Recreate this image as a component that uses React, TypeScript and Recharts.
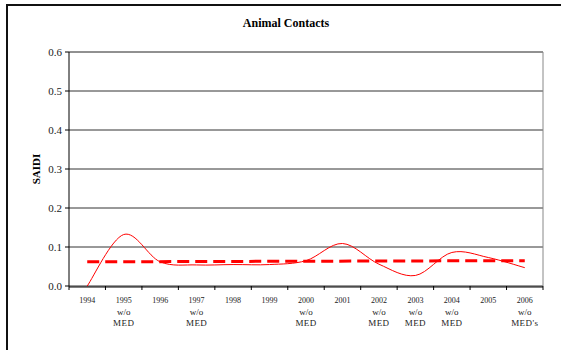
import React from 'react';
import { LineChart, Line, XAxis, YAxis, CartesianGrid, ReferenceLine } from 'recharts';

const years = ['1994', '1995', '1996', '1997', '1998', '1999', '2000', '2001', '2002', '2003', '2004', '2005', '2006'];
const subLine1 = ['', 'w/o', '', 'w/o', '', '', 'w/o', '', 'w/o', 'w/o', 'w/o', '', 'w/o'];
const subLine2 = ['', 'MED', '', 'MED', '', '', 'MED', '', 'MED', 'MED', 'MED', '', "MED's"];
const saidi = [0.0, 0.132, 0.062, 0.054, 0.055, 0.055, 0.065, 0.109, 0.056, 0.027, 0.086, 0.073, 0.047];
const average = [0.062, null, null, null, null, null, null, null, null, null, null, null, 0.065];
const yTicks = [0, 0.1, 0.2, 0.3, 0.4, 0.5, 0.6];

const data = years.map((y, i) => ({ x: i + 0.5, year: y, saidi: saidi[i], avg: average[i] }));
const labelTicks = years.map((_, i) => i + 0.5);
const boundaryTicks = [...years.map((_, i) => i), years.length];

const FONT = '"Liberation Serif", "Times New Roman", serif';

// Excel-style smoothed line (Catmull-Rom as cubic Bezier)
const excelSmooth: any = (context: any) => {
  let pts: number[][] = [];
  return {
    areaStart() {},
    areaEnd() {},
    lineStart() { pts = []; },
    point(x: number, y: number) { pts.push([+x, +y]); },
    lineEnd() {
      if (!pts.length) return;
      context.moveTo(pts[0][0], pts[0][1]);
      for (let i = 0; i < pts.length - 1; i++) {
        const p0 = pts[i - 1] || pts[i];
        const p1 = pts[i];
        const p2 = pts[i + 1];
        const p3 = pts[i + 2] || pts[i + 1];
        context.bezierCurveTo(
          p1[0] + (p2[0] - p0[0]) / 6, p1[1] + (p2[1] - p0[1]) / 6,
          p2[0] - (p3[0] - p1[0]) / 6, p2[1] - (p3[1] - p1[1]) / 6,
          p2[0], p2[1]
        );
      }
    },
  };
};

const XTick = (props: any) => {
  const { x, y, payload } = props;
  const i = Math.floor(payload.value);
  return (
    <g>
      <text x={x} y={y + 16} textAnchor="middle" fontSize={8} fill="#222" style={{ fontFamily: FONT }}>{years[i]}</text>
      {subLine1[i] ? (
        <text x={x} y={y + 27.5} textAnchor="middle" fontSize={9} fill="#222" style={{ fontFamily: FONT }}>{subLine1[i]}</text>
      ) : null}
      {subLine2[i] ? (
        <text x={x} y={y + 39} textAnchor="middle" fontSize={9} fill="#222" style={{ fontFamily: FONT, letterSpacing: 0.4 }}>{subLine2[i]}</text>
      ) : null}
    </g>
  );
};

const YTick = (props: any) => {
  const { x, y, payload } = props;
  return (
    <text x={x} y={y} dy={4} textAnchor="end" fontSize={11} fill="#222" style={{ fontFamily: FONT }}>
      {Number(payload.value).toFixed(1)}
    </text>
  );
};

const EmptyTick = () => <g />;

const SaidiLabel = (props: any) => {
  const vb = props.viewBox || {};
  const cx = 36;
  const cy = (vb.y ?? 52) + (vb.height ?? 234) / 2;
  return (
    <text
      x={cx}
      y={cy}
      transform={`rotate(-90, ${cx}, ${cy})`}
      textAnchor="middle"
      dominantBaseline="central"
      fontSize={11}
      fontWeight="bold"
      fill="#000"
      style={{ fontFamily: FONT }}
    >
      SAIDI
    </text>
  );
};

export default function App() {
  return (
    <div style={{ position: 'absolute', left: 0, top: 0, width: 561, height: 350, overflow: 'hidden', background: '#fff', fontFamily: FONT }}>
      <div style={{ position: 'absolute', left: 6, top: 4, width: 700, height: 500, borderTop: '2px solid #111', borderLeft: '2px solid #111' }} />
      <div style={{ position: 'absolute', left: 186, top: 16, width: 200, textAlign: 'center', fontSize: 12, fontWeight: 'bold', color: '#000', fontFamily: FONT }}>
        Animal Contacts
      </div>
      <div style={{ position: 'absolute', left: 0, top: 0 }}>
        <LineChart width={561} height={350} data={data} margin={{ top: 52, right: 17, bottom: 62, left: 0 }} style={{ fontFamily: FONT }}>
          <CartesianGrid xAxisId="lab" yAxisId="l" vertical={false} stroke="#333" strokeWidth={1} />
          <XAxis
            xAxisId="bnd"
            dataKey="x"
            type="number"
            domain={[0, years.length]}
            allowDataOverflow
            ticks={boundaryTicks}
            interval={0}
            height={1}
            tick={EmptyTick}
            tickLine={{ stroke: '#000' }}
            tickSize={4}
            axisLine={false}
          />
          <XAxis
            xAxisId="lab"
            dataKey="x"
            type="number"
            domain={[0, years.length]}
            allowDataOverflow
            ticks={labelTicks}
            interval={0}
            height={1}
            tick={XTick}
            tickLine={false}
            tickSize={0}
            tickMargin={0}
            axisLine={{ stroke: '#000' }}
          />
          <YAxis
            yAxisId="l"
            width={69}
            domain={[0, 0.6]}
            ticks={yTicks}
            interval={0}
            tick={YTick}
            tickSize={4}
            tickMargin={3}
            tickLine={{ stroke: '#000' }}
            axisLine={{ stroke: '#000' }}
            label={<SaidiLabel />}
          />
          <YAxis
            yAxisId="r"
            orientation="right"
            width={1}
            domain={[0, 0.6]}
            tick={false}
            tickLine={false}
            axisLine={{ stroke: '#888' }}
          />
          <ReferenceLine yAxisId="l" xAxisId="lab" y={0.6} stroke="#888" strokeWidth={1} />
          <Line
            xAxisId="lab"
            yAxisId="l"
            dataKey="avg"
            type="linear"
            connectNulls
            stroke="#ff0000"
            strokeWidth={3}
            strokeDasharray="12 6"
            dot={false}
            activeDot={false}
            isAnimationActive={false}
          />
          <Line
            xAxisId="lab"
            yAxisId="l"
            dataKey="saidi"
            type={excelSmooth}
            stroke="#ff0000"
            strokeWidth={1}
            dot={false}
            activeDot={false}
            isAnimationActive={false}
          />
        </LineChart>
      </div>
    </div>
  );
}
